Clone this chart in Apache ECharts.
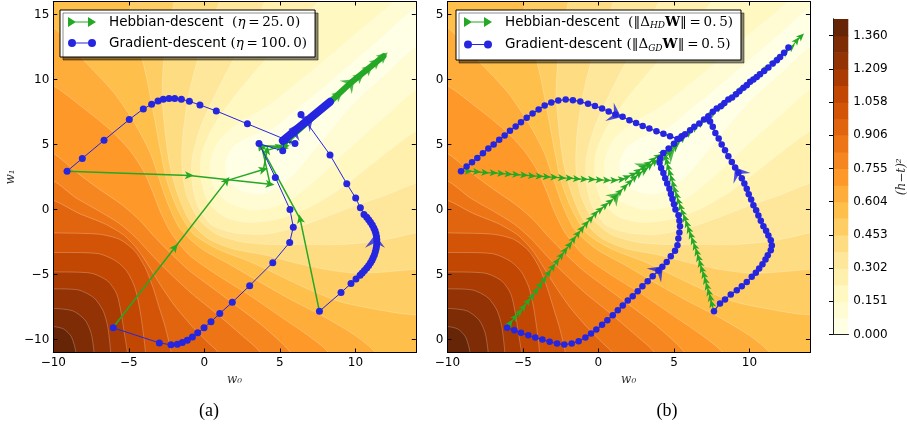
<!DOCTYPE html>
<html>
<head>
<meta charset="utf-8">
<script src="https://cdn.jsdelivr.net/npm/echarts@6/dist/echarts.min.js"></script>
<style>
html, body { margin: 0; padding: 0; background: #fff; }
#chart { width: 907px; height: 428px; }
</style>
</head>
<body>
<div id="chart"></div>
<script>
// ---------- values ----------
// contour lines of (h-t)^2: line k separates band k-1 from band k (edge to edge)
const contourLines = [
  [[14,15.5],[12,13.5],[10,11.5],[8,9.5],[6,7.6],[4.5,6.2],[3,5.6],[1.9,4.8],[1.4,3.6],[1.6,2.3],[2.5,1.4],[3.8,1.2],[5,1.8],[6,2.8],[7,4.2],[10,8.3],[12,10.4],[14,12.5]],
  [[12.5,16],[10,13.5],[8,11.5],[6,9.6],[4,7.8],[2.2,6.6],[0.9,5.2],[0.4,3.6],[0.6,1.8],[1.5,0.6],[3,0],[4.6,0.2],[6,1],[7.5,2.4],[9.5,4.6],[12,7.2],[14,9.2]],
  [[7.5,16],[5.5,13.5],[3.5,10.8],[1.8,8.4],[0.5,6.2],[-0.2,4.2],[-0.2,2.2],[0.3,0.5],[1.4,-0.6],[3,-1.0],[5,-0.7],[7,0.2],[9,1.6],[11,3.4],[14,6]],
  [[4,16],[2.5,12.8],[1,9.5],[-0.2,6.5],[-0.8,4],[-0.8,2],[-0.4,0.2],[0.5,-1.2],[2,-1.8],[4,-1.9],[6,-1.4],[8,-0.6],[10,0.3],[12,1.1],[14,2]],
  [[1,16],[-0.2,12.5],[-1,9],[-1.4,6],[-1.5,3.5],[-1.2,1.2],[-0.4,-0.7],[0.8,-1.9],[2.5,-2.5],[4.5,-2.7],[7,-2.7],[9,-2.7],[11,-2.5],[12.5,-2.2],[14,-1.8]],
  [[-2,16],[-2.6,12.5],[-2.8,9],[-2.6,6],[-2.3,3.5],[-1.8,1.3],[-1,-0.8],[0.2,-2.2],[1.8,-3],[4,-3.5],[6,-4.1],[8,-4.6],[10,-4.9],[12,-4.8],[14,-4.6]],
  [[-5,16],[-4.4,13],[-3.8,10],[-3.3,7],[-2.9,4.5],[-2.5,2.3],[-1.8,0.1],[-0.8,-1.8],[0.8,-3],[3,-4.0],[5,-5.1],[7,-6.2],[9,-7.1],[11,-7.6],[13,-8.0],[14,-8.1]],
  [[-10,14],[-8,11.5],[-6,9],[-4.6,6.6],[-3.6,4.4],[-3,2.4],[-2.4,0.4],[-1.6,-1.5],[-0.2,-3],[1.8,-4.3],[4,-5.8],[6,-7.1],[8,-8.3],[10,-9.7],[11.3,-11]],
  [[-10,9.5],[-8,7.8],[-6.2,6.1],[-4.9,4.5],[-4,2.9],[-3.4,1.3],[-2.9,-0.2],[-2.2,-1.8],[-1,-3.5],[0.8,-5.0],[3,-6.6],[5,-8.2],[7,-9.8],[8.2,-11]],
  [[-10,4.3],[-8.5,2.9],[-7,1.6],[-5.5,0.4],[-4.3,-0.8],[-3.3,-2.1],[-2.2,-3.4],[-1,-4.7],[0.5,-6.0],[2,-7.3],[3.8,-8.9],[5.7,-11]],
  [[-10,2.2],[-8.5,0.9],[-7,-0.1],[-5.6,-1.1],[-4.5,-2.2],[-3.4,-3.6],[-2.2,-5.0],[-0.8,-6.5],[0.8,-8.0],[2.4,-9.6],[3.7,-11]],
  [[-10,0.7],[-8.3,-0.3],[-6.6,-1.1],[-5.3,-2],[-4.4,-3.1],[-3.6,-4.5],[-2.8,-6],[-1.9,-7.5],[-0.8,-9],[0.3,-10.3],[0.9,-11]],
  [[-10,-1.8],[-7,-1.9],[-5.6,-2.3],[-4.6,-3.2],[-3.9,-4.5],[-3.4,-6],[-3,-7.5],[-2.6,-9],[-2.2,-11]],
  [[-10,-3.3],[-7,-3.4],[-5.8,-4],[-5.1,-4.8],[-4.6,-6],[-4.3,-7.5],[-4.1,-9],[-3.9,-11]],
  [[-10,-4.8],[-7.5,-4.9],[-6.4,-5.5],[-5.8,-6.5],[-5.5,-8],[-5.3,-9.5],[-5.1,-11]],
  [[-10,-6.1],[-8.3,-6.2],[-7.3,-6.8],[-6.7,-7.8],[-6.4,-9],[-6.2,-11]],
  [[-10,-7.6],[-8.7,-7.8],[-7.9,-8.5],[-7.5,-9.5],[-7.3,-11]],
  [[-10,-9],[-9.3,-9.2],[-8.8,-9.8],[-8.5,-11]]
];
// contour levels of the colour bar and its tick labels
const cbLevels = [0, 0.0755, 0.1511, 0.2266, 0.3022, 0.3777, 0.4532, 0.5288, 0.6043, 0.6798,
                  0.7554, 0.8309, 0.9065, 0.9820, 1.0575, 1.1331, 1.2086, 1.2841, 1.3597, 1.4352];
const cbTickLabels = ['0.000', '0.151', '0.302', '0.453', '0.604', '0.755', '0.906', '1.058', '1.209', '1.360'];
const xTicks = [-10, -5, 0, 5, 10];
const yTicks = [-10, -5, 0, 5, 10, 15];
const plotX = [-10, 14];
const plotY = [-11, 16];

// (a) Hebbian-descent, eta = 25
const hdA = [
  [[-9.1, 2.95], [-0.99, 2.62], [4.35, 1.95], [3.8, 4.85], [5.36, 4.9], [5.7, 5.5]],
  [[-6.05, -9.1], [-1.94, -2.9], [1.48, 2.22], [3.91, 3.07], [4.15, 4.55], [5.0, 4.85], [5.5, 5.3]],
  [[7.62, -7.83], [6.34, -0.72], [3.69, 4.95], [5.3, 4.75], [5.6, 5.4]]
];
const hdATail = [[5.5, 5.35], [8.3, 8.25], [9.65, 9.7], [11.86, 11.79]];
const hdATailHeads = [[8.9, 8.85], [10.3, 10.25], [10.9, 10.85], [11.4, 11.35], [11.86, 11.79]];
// (a) Gradient-descent, eta = 100
const gdA = [
  [[-9.09, 2.95], [-8.08, 3.93], [-6.64, 5.33], [-4.97, 6.92], [-4.04, 7.74], [-3.49, 8.09],
   [-3.07, 8.35], [-2.72, 8.48], [-2.34, 8.53], [-1.96, 8.53], [-1.52, 8.48], [-0.99, 8.32],
   [-0.29, 8.04], [0.79, 7.58], [2.85, 6.59], [6.0, 5.08], [5.2, 5.25]],
  [[-6.03, -9.1], [-2.98, -10.26], [-2.21, -10.41], [-1.79, -10.36], [-1.46, -10.23],
   [-1.13, -10.05], [-0.79, -9.8], [-0.44, -9.49], [-0.02, -9.1], [0.44, -8.64], [1.02, -8.0],
   [1.85, -7.14], [3.0, -5.86], [4.53, -4.09], [5.65, -2.53], [5.89, -1.36], [5.67, 0.0],
   [4.7, 2.47], [3.62, 5.07], [5.19, 4.51], [5.3, 5.3]],
  [[7.62, -7.83], [9.05, -6.39], [9.71, -5.7], [10.04, -5.35], [10.31, -5.06], [10.45, -4.88],
   [10.6, -4.7], [10.75, -4.5], [10.88, -4.3], [11.0, -4.1], [11.1, -3.9], [11.18, -3.7],
   [11.26, -3.48], [11.32, -3.25], [11.37, -3.02], [11.4, -2.8], [11.42, -2.56], [11.42, -2.33],
   [11.4, -2.1], [11.36, -1.87], [11.3, -1.64], [11.22, -1.42], [11.12, -1.2], [11.0, -0.98],
   [10.88, -0.78], [10.75, -0.59], [10.57, -0.38], [10.33, 0.13], [10.02, 0.88], [9.43, 1.98],
   [8.32, 4.2], [6.4, 7.3]]
];
const gdATail = [[5.2, 5.3], [8.32, 8.28]];
const gdAStars = [[6.0, 6.1], [6.89, 6.87], [11.3, -2.45]];
const hdAStars = [[9.65, 9.7]];

// (b) Hebbian-descent, |dW| = 0.5
const hdB = [
  [[-9.1, 2.95], [-8.59, 2.95], [-8.04, 2.9], [-7.49, 2.84], [-6.94, 2.82], [-6.43, 2.77],
   [-5.95, 2.72], [-5.44, 2.69], [-4.91, 2.64], [-4.4, 2.59], [-3.89, 2.56], [-3.41, 2.51],
   [-2.92, 2.48], [-2.41, 2.43], [-1.91, 2.41], [-1.42, 2.36], [-0.94, 2.33], [-0.43, 2.31],
   [0.08, 2.28], [0.57, 2.25], [1.05, 2.25], [1.56, 2.33], [1.9, 2.5], [2.31, 2.7], [2.64, 2.97],
   [2.98, 3.28], [3.31, 3.54], [3.64, 3.84], [3.97, 4.1], [4.3, 4.35], [4.74, 4.7], [5.1, 5.1]],
  [[-6.05, -9.1], [-5.83, -8.72], [-5.5, -8.26], [-5.21, -7.88], [-4.95, -7.49], [-4.66, -7.05],
   [-4.37, -6.64], [-4.11, -6.21], [-3.84, -5.77], [-3.58, -5.34], [-3.29, -4.87], [-3.01, -4.41],
   [-2.74, -3.98], [-2.45, -3.54], [-2.19, -3.13], [-1.9, -2.7], [-1.64, -2.28], [-1.35, -1.85],
   [-1.08, -1.46], [-0.8, -1.08], [-0.49, -0.69], [-0.2, -0.31], [0.13, 0.0], [0.46, 0.33],
   [0.79, 0.62], [1.1, 0.97], [1.43, 1.38], [1.76, 1.76], [2.09, 2.12], [2.4, 2.45], [2.71, 2.75],
   [3.09, 3.05], [3.42, 3.38], [3.75, 3.68], [4.08, 4.0], [4.41, 4.3], [4.8, 4.65], [5.2, 5.0]],
  [[7.65, -7.82], [7.5, -7.23], [7.41, -6.77], [7.3, -6.34], [7.19, -5.9], [7.08, -5.44],
   [6.97, -5.0], [6.84, -4.57], [6.73, -4.13], [6.62, -3.69], [6.51, -3.26], [6.38, -2.82],
   [6.24, -2.39], [6.11, -1.95], [5.98, -1.52], [5.85, -1.08], [5.71, -0.64], [5.56, -0.21],
   [5.43, 0.23], [5.29, 0.66], [5.18, 1.1], [5.05, 1.54], [4.94, 1.97], [4.83, 2.41], [4.72, 2.84],
   [4.61, 3.28], [4.52, 3.71], [4.43, 4.05], [4.74, 4.35], [5.1, 4.8]],
  [[5.2, 5.05], [5.6, 5.5], [6.0, 5.9], [6.4, 6.3], [6.8, 6.65], [7.2, 7.05], [7.6, 7.45],
   [8.0, 7.85], [8.4, 8.22], [8.8, 8.6], [9.2, 9.0], [9.6, 9.38], [10.0, 9.75], [10.4, 10.15],
   [10.8, 10.55], [11.2, 10.92], [11.6, 11.32], [12.0, 11.7], [12.4, 12.1], [12.8, 12.5],
   [13.13, 13.0], [13.42, 13.33]]
];
// (b) Gradient-descent, |dW| = 0.5
const gdB = [
  [[-9.1, 2.95], [-8.73, 3.31], [-8.37, 3.64], [-8.02, 3.97], [-7.65, 4.33], [-7.29, 4.69],
   [-6.94, 5.0], [-6.57, 5.36], [-6.21, 5.69], [-5.86, 6.05], [-5.48, 6.38], [-5.13, 6.72],
   [-4.75, 7.05], [-4.36, 7.38], [-3.96, 7.69], [-3.56, 8.0], [-3.12, 8.23], [-2.66, 8.38],
   [-2.17, 8.46], [-1.69, 8.41], [-1.2, 8.3], [-0.69, 8.13], [-0.23, 7.97], [0.24, 7.77],
   [0.68, 7.54], [1.12, 7.3], [1.6, 7.13], [2.05, 6.87], [2.49, 6.66], [2.93, 6.43], [3.37, 6.23],
   [3.84, 6.02], [4.3, 5.82], [4.74, 5.64], [5.23, 5.43], [5.51, 5.64]],
  [[-6.05, -9.1], [-5.57, -9.28], [-5.13, -9.49], [-4.64, -9.67], [-4.18, -9.85], [-3.71, -10.0],
   [-3.23, -10.18], [-2.74, -10.31], [-2.26, -10.39], [-1.77, -10.31], [-1.31, -10.13],
   [-0.86, -9.85], [-0.49, -9.54], [-0.14, -9.23], [0.24, -8.87], [0.59, -8.52], [0.95, -8.13],
   [1.28, -7.75], [1.61, -7.39], [1.94, -7.0], [2.27, -6.67], [2.6, -6.28], [2.91, -5.9],
   [3.26, -5.52], [3.59, -5.13], [3.97, -4.72], [4.23, -4.41], [4.52, -4.03], [4.79, -3.59],
   [5.07, -3.18], [5.23, -2.75], [5.29, -2.23], [5.36, -1.77], [5.4, -1.28], [5.36, -0.87],
   [5.3, -0.44], [5.1, 0.0], [5.0, 0.41], [4.9, 0.8], [4.8, 1.2], [4.7, 1.6], [4.55, 2.0],
   [4.42, 2.4], [4.3, 2.8], [4.15, 3.2], [4.05, 3.6], [4.1, 3.95], [4.3, 4.35], [4.65, 4.7],
   [5.0, 5.05]],
  [[7.65, -7.82], [8.05, -7.23], [8.38, -6.93], [8.76, -6.54], [9.16, -6.21], [9.49, -5.9],
   [9.82, -5.57], [10.15, -5.18], [10.42, -4.87], [10.64, -4.54], [10.86, -4.21], [11.06, -3.85],
   [11.21, -3.52], [11.41, -3.13], [11.48, -2.77], [11.41, -2.36], [11.25, -2.0], [11.1, -1.64],
   [10.92, -1.28], [10.75, -0.87], [10.59, -0.46], [10.44, -0.05], [10.26, 0.33], [10.11, 0.77],
   [9.95, 1.18], [9.82, 1.59], [9.66, 2.0], [9.49, 2.41], [9.27, 2.82], [9.05, 3.23], [8.83, 3.66],
   [8.6, 4.1], [8.38, 4.56], [8.16, 5.0], [7.96, 5.46], [7.74, 5.89], [7.57, 6.36], [7.39, 6.77],
   [7.28, 7.13]],
  [[5.4, 5.46], [5.74, 5.79], [6.07, 6.1], [6.35, 6.36], [6.68, 6.61], [6.99, 6.92], [7.28, 7.18],
   [7.57, 7.51], [7.83, 7.77], [8.1, 7.95], [8.34, 8.2], [8.6, 8.46], [8.85, 8.61], [9.11, 8.87],
   [9.33, 9.1], [9.6, 9.36], [9.82, 9.56], [10.04, 9.82], [10.26, 10.0], [10.48, 10.2],
   [10.7, 10.41], [10.97, 10.66], [11.25, 10.92], [11.54, 11.23], [11.81, 11.48], [12.03, 11.74],
   [12.29, 12.05], [12.58, 12.46]]
];
const gdBStars = [[1.12, 7.3], [3.97, -4.72], [9.27, 2.82]];
const hdBStars = [[1.1, 0.97], [2.98, 3.28], [4.74, 4.3]];

// ---------- styling ----------
const GREEN = '#25a825';
const BLUE = '#2626e0';
const ARROW = 'path://M5,0L10,10L5,7.5L0,10Z';
const STAR = 'path://M10,0L20,13L10,8L0,13Z';
const iconHD = 'path://M0,0L8,5L0,10Z M3,4.4L25,4.4L25,5.6L3,5.6Z M20,0L28,5L20,10Z';
const iconGD = 'path://M0,5A4,4,0,1,1,8,5A4,4,0,1,1,0,5Z M4,4.4L24,4.4L24,5.6L4,5.6Z M20,5A4,4,0,1,1,28,5A4,4,0,1,1,20,5Z';

const ylorbr = ['#ffffe5', '#fff7bc', '#fee391', '#fec44f', '#fe9929', '#ec7014', '#cc4c02', '#993404', '#662506'];
function hex(c) { return [1, 3, 5].map(i => parseInt(c.substr(i, 2), 16)); }
function ramp(t) {
  const s = t * (ylorbr.length - 1);
  const i = Math.min(Math.floor(s), ylorbr.length - 2);
  const f = s - i, a = hex(ylorbr[i]), b = hex(ylorbr[i + 1]);
  return 'rgb(' + a.map((v, k) => Math.round(v + (b[k] - v) * f)).join(',') + ')';
}
const nBands = cbLevels.length - 1;
const palette = [];
for (let k = 0; k < nBands; k++) palette.push(ramp(k / (nBands - 1)));

// pixel size of one data unit in the panels (for arrow orientation)
const PW = 362.5, PH = 351;
const SX = PW / (plotX[1] - plotX[0]), SY = PH / (plotY[1] - plotY[0]);
function heading(p, q) {
  return Math.atan2((q[1] - p[1]) * SY, (q[0] - p[0]) * SX) * 180 / Math.PI - 90;
}
function headingNear(paths, pt) {
  let best = 0, bd = Infinity;
  paths.forEach(path => {
    for (let i = 1; i < path.length; i++) {
      const mx = (path[i - 1][0] + path[i][0]) / 2, my = (path[i - 1][1] + path[i][1]) / 2;
      const d = (mx - pt[0]) ** 2 + (my - pt[1]) ** 2;
      if (d < bd) { bd = d; best = heading(path[i - 1], path[i]); }
    }
  });
  return best;
}

// filled contours: each band region is closed round the outside of the plot, then clipped
const farL = plotX[0] - 4, farR = plotX[1] + 4, farB = plotY[0] - 4, farT = plotY[1] + 4;
function pushOut(p) {
  if (p[0] <= plotX[0]) return [p[0] - 1, p[1]];
  if (p[0] >= plotX[1]) return [p[0] + 1, p[1]];
  if (p[1] <= plotY[0]) return [p[0], p[1] - 1];
  return [p[0], p[1] + 1];
}
function extended(line) { return [pushOut(line[0])].concat(line, [pushOut(line[line.length - 1])]); }
function regionOf(line) {
  const a = line[0];
  let close;
  if (a[0] >= plotX[1]) close = [[farR, farB], [farL, farB], [farL, farT], [farR, farT]];
  else if (a[1] >= plotY[1]) close = [[farR, farB], [farL, farB], [farL, farT]];
  else close = [[farL, farB]];
  return extended(line).concat(close);
}
const bandItems = [];
for (let k = 0; k <= contourLines.length; k++) bandItems.push([0, 0, k]);

function bgSeries(ax) {
  return {
    type: 'custom', xAxisIndex: ax, yAxisIndex: ax, data: bandItems, clip: true, z: 1, silent: true,
    encode: { x: 0, y: 1 },
    renderItem(params, api) {
      const k = api.value(2);
      if (k === 0) {
        const p0 = api.coord([plotX[0], plotY[1]]), p1 = api.coord([plotX[1], plotY[0]]);
        return { type: 'rect', shape: { x: p0[0], y: p0[1], width: p1[0] - p0[0], height: p1[1] - p0[1] },
                 style: { fill: palette[0] } };
      }
      const line = contourLines[k - 1];
      return {
        type: 'group', children: [
          { type: 'polygon', shape: { points: regionOf(line).map(p => api.coord(p)), smooth: 0.25 },
            style: { fill: palette[k] } },
          { type: 'polyline', shape: { points: extended(line).map(p => api.coord(p)), smooth: 0.25 },
            style: { stroke: 'rgba(255,255,255,0.35)', lineWidth: 0.7, fill: null } }
        ]
      };
    }
  };
}
const cbData = [];
for (let k = 0; k < nBands; k++) cbData.push([0.5, (cbLevels[k] + cbLevels[k + 1]) / 2, k]);
const cbSeries = {
  type: 'custom', xAxisIndex: 4, yAxisIndex: 4, data: cbData, z: 1, silent: true, clip: true,
  encode: { x: 0, y: 1 },
  renderItem(params, api) {
    const k = api.value(2);
    const p0 = api.coord([0, cbLevels[k + 1]]);
    const p1 = api.coord([1, cbLevels[k]]);
    return { type: 'rect', shape: { x: p0[0], y: p0[1], width: p1[0] - p0[0], height: p1[1] - p0[1] + 0.6 },
             style: { fill: palette[k] } };
  }
};

function hebbSeries(name, path, ax, size, width) {
  return {
    type: 'line', name, xAxisIndex: ax, yAxisIndex: ax, z: 3, silent: true, showAllSymbol: true,
    data: path.map((p, i) => i === 0 ? { value: p, symbol: 'none' } : { value: p, symbolRotate: heading(path[i - 1], p) }),
    symbol: ARROW, symbolSize: size, itemStyle: { color: GREEN }, lineStyle: { color: GREEN, width }
  };
}
function gdSeries(name, path, ax, size, width) {
  return {
    type: 'line', name, xAxisIndex: ax, yAxisIndex: ax, z: 4, silent: true, showAllSymbol: true,
    data: path, symbol: 'circle', symbolSize: size, itemStyle: { color: BLUE }, lineStyle: { color: BLUE, width }
  };
}
function starSeries(name, pts, paths, ax, color, size, z) {
  return {
    type: 'scatter', name, xAxisIndex: ax, yAxisIndex: ax, z, silent: true, symbol: STAR, symbolSize: size,
    itemStyle: { color }, data: pts.map(p => ({ value: p, symbolRotate: headingNear(paths, p) }))
  };
}

const series = [bgSeries(0), bgSeries(2), cbSeries];
// panel (a)
series.push({ type: 'line', name: 'hdA', xAxisIndex: 0, yAxisIndex: 0, z: 3, silent: true, data: hdATail,
              symbol: 'none', lineStyle: { color: GREEN, width: 6, cap: 'round' }, itemStyle: { color: GREEN } });
hdA.forEach(p => series.push(hebbSeries('hdA', p, 0, [8, 9], 1.5)));
series.push({ type: 'scatter', name: 'hdA', xAxisIndex: 0, yAxisIndex: 0, z: 3, silent: true, symbol: ARROW,
              symbolSize: [11, 11], itemStyle: { color: GREEN },
              data: hdATailHeads.map(p => ({ value: p, symbolRotate: heading(hdATail[0], hdATail[3]) })) });
series.push(starSeries('hdA', hdAStars, [hdATail], 0, GREEN, [18, 12], 3));
gdA.forEach(p => series.push(gdSeries('gdA', p, 0, 7, 1)));
series.push({ type: 'line', name: 'gdA', xAxisIndex: 0, yAxisIndex: 0, z: 4, silent: true, data: gdATail,
              symbol: 'none', lineStyle: { color: BLUE, width: 8, cap: 'round' }, itemStyle: { color: BLUE } });
series.push(starSeries('gdA', gdAStars, gdA.concat([gdATail]), 0, BLUE, [20, 13], 5));
// panel (b)
hdB.forEach(p => series.push(hebbSeries('hdB', p, 2, [7, 8], 1.2)));
series.push(starSeries('hdB', hdBStars, hdB, 2, GREEN, [16, 12], 3));
gdB.forEach(p => series.push(gdSeries('gdB', p, 2, 6.5, 1.2)));
series.push(starSeries('gdB', gdBStars, gdB, 2, BLUE, [20, 13], 5));

// ---------- axes ----------
const tickFont = { fontFamily: 'DejaVu Sans', fontSize: 12, color: '#000' };
function fmtTick(v) { return v < 0 ? '\u2212' + Math.abs(v) : String(v); }
function axisBase(o) {
  return Object.assign({ type: 'value', z: 10, splitLine: { show: false },
    axisLine: { show: true, onZero: false, lineStyle: { color: '#000', width: 1 } } }, o);
}
const mathName = { fontFamily: 'DejaVu Serif', fontStyle: 'italic', fontSize: 12, color: '#333' };
const xAxis = [], yAxis = [];
[0, 1].forEach(g => {
  xAxis.push(axisBase({ gridIndex: g, min: plotX[0], max: plotX[1], position: 'bottom',
    axisTick: { inside: true, length: 4, customValues: xTicks, lineStyle: { color: '#000' } },
    axisLabel: Object.assign({ customValues: xTicks, formatter: fmtTick, margin: 4 }, tickFont),
    name: 'w\u2080', nameLocation: 'middle', nameGap: 21, nameTextStyle: mathName }));
  xAxis.push(axisBase({ gridIndex: g, min: plotX[0], max: plotX[1], position: 'top',
    axisTick: { inside: true, length: 4, customValues: xTicks, lineStyle: { color: '#000' } },
    axisLabel: { show: false, customValues: xTicks } }));
});
[0, 1].forEach(g => {
  yAxis.push(axisBase({ gridIndex: g, min: plotY[0], max: plotY[1], position: 'left',
    axisTick: { inside: true, length: 4, customValues: yTicks, lineStyle: { color: '#000' } },
    axisLabel: Object.assign({ customValues: yTicks, formatter: fmtTick, margin: 4 }, tickFont),
    name: g === 0 ? 'w\u2081' : '', nameLocation: 'middle', nameGap: 36, nameRotate: 90, nameTextStyle: mathName }));
  yAxis.push(axisBase({ gridIndex: g, min: plotY[0], max: plotY[1], position: 'right',
    axisTick: { inside: true, length: 4, customValues: yTicks, lineStyle: { color: '#000' } },
    axisLabel: { show: false, customValues: yTicks } }));
});
const cbTickValues = cbTickLabels.map((s, i) => cbLevels[2 * i]);
xAxis.push(axisBase({ gridIndex: 2, min: 0, max: 1, position: 'bottom', axisTick: { show: false },
  axisLabel: { show: false }, axisLine: { show: true, lineStyle: { color: '#222' } } }));
xAxis.push(axisBase({ gridIndex: 2, min: 0, max: 1, position: 'top', axisTick: { show: false },
  axisLabel: { show: false }, axisLine: { show: true, lineStyle: { color: '#222' } } }));
yAxis.push(axisBase({ gridIndex: 2, min: 0, max: cbLevels[nBands], position: 'right',
  axisLine: { show: true, lineStyle: { color: '#222' } },
  axisTick: { inside: true, length: 4, customValues: cbTickValues, lineStyle: { color: '#000' } },
  axisLabel: Object.assign({ customValues: cbTickValues, margin: 5,
    formatter: v => cbTickLabels[cbTickValues.findIndex(t => Math.abs(t - v) < 1e-6)] }, tickFont),
  name: '(h\u2212t)\u00b2', nameLocation: 'middle', nameGap: 48, nameRotate: 90, nameTextStyle: mathName }));
yAxis.push(axisBase({ gridIndex: 2, min: 0, max: cbLevels[nBands], position: 'left', axisTick: { show: false },
  axisLabel: { show: false }, axisLine: { show: true, lineStyle: { color: '#222' } } }));

// ---------- legends ----------
const legendText = {
  hdA: '{t|Hebbian-descent}{m|  (}{i|\u03b7}{m|\u2009=\u200925.\u20090)}',
  gdA: '{t|Gradient-descent}{m| (}{i|\u03b7}{m|\u2009=\u2009100.\u20090)}',
  hdB: '{t|Hebbian-descent}{m|  (\u2016\u0394}{s|HD}{b|W}{m|\u2016\u2009=\u20090.\u20095)}',
  gdB: '{t|Gradient-descent}{m| (\u2016\u0394}{s|GD}{b|W}{m|\u2016\u2009=\u20090.\u20095)}'
};
const richLegend = {
  t: { fontFamily: 'DejaVu Sans', fontSize: 13.5, color: '#000', padding: [0, 0, 0, 8], lineHeight: 17 },
  m: { fontFamily: 'DejaVu Serif', fontSize: 13.5, color: '#000', lineHeight: 17 },
  i: { fontFamily: 'DejaVu Serif', fontStyle: 'italic', fontSize: 13.5, color: '#000', lineHeight: 17 },
  b: { fontFamily: 'DejaVu Serif', fontWeight: 'bold', fontSize: 13.5, color: '#000', lineHeight: 17 },
  s: { fontFamily: 'DejaVu Serif', fontStyle: 'italic', fontSize: 9, color: '#000', lineHeight: 11, verticalAlign: 'bottom' }
};
function legendAt(left, names) {
  return {
    left, top: 10, orient: 'vertical', selectedMode: false, z: 12,
    data: [{ name: names[0], icon: iconHD }, { name: names[1], icon: iconGD }],
    formatter: n => legendText[n], itemWidth: 28, itemHeight: 10, itemGap: 7,
    padding: [5, 8, 7, 8], backgroundColor: '#fff', borderColor: '#000', borderWidth: 1, borderRadius: 0,
    shadowColor: 'rgba(0,0,0,0.45)', shadowOffsetX: 3, shadowOffsetY: 3, shadowBlur: 0,
    textStyle: { rich: richLegend }
  };
}

const chart = echarts.init(document.getElementById('chart'));
chart.setOption({
  animation: false,
  grid: [
    { left: 53.3, top: 1.5, width: PW, height: PH, outerBoundsMode: 'none' },
    { left: 447.4, top: 1.5, width: PW, height: PH, outerBoundsMode: 'none' },
    { left: 833, top: 19, width: 15.3, height: 315.5, outerBoundsMode: 'none' }
  ],
  xAxis, yAxis,
  legend: [legendAt(60, ['hdA', 'gdA']), legendAt(456, ['hdB', 'gdB'])],
  graphic: [
    { type: 'rect', z: 100, shape: { x: 417.5, y: 0, width: 18, height: 368 }, style: { fill: '#fff' } },
    { type: 'text', z: 100, x: 209, y: 411, style: { text: '(a)', font: '18px "Liberation Serif"', fill: '#000',
      align: 'center', verticalAlign: 'middle', textAlign: 'center', textVerticalAlign: 'middle' } },
    { type: 'text', z: 100, x: 667, y: 411, style: { text: '(b)', font: '18px "Liberation Serif"', fill: '#000',
      align: 'center', verticalAlign: 'middle', textAlign: 'center', textVerticalAlign: 'middle' } }
  ],
  series
});
</script>
</body>
</html>
